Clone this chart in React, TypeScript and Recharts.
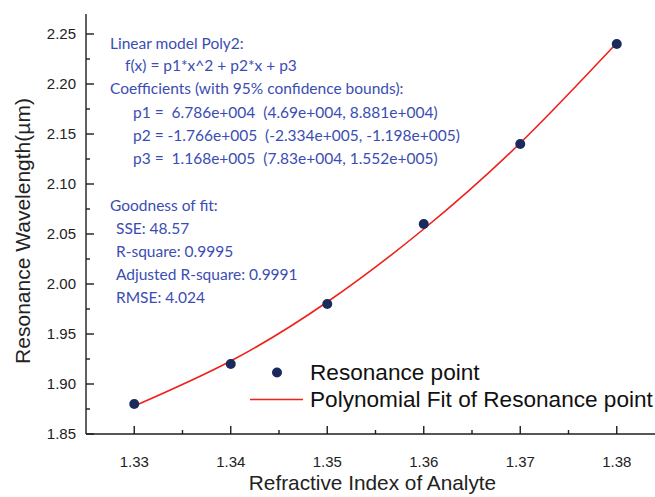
import React from "react"
import { ComposedChart, Line, Scatter, XAxis, YAxis, Legend } from "recharts"

// refractive index of the analyte
const indices = [1.33, 1.34, 1.35, 1.36, 1.37, 1.38]
// measured resonance wavelength (µm)
const resonance = [1.88, 1.92, 1.98, 2.06, 2.14, 2.24]
// quadratic fit evaluated at each index (µm)
const polyFit = [1.878, 1.923, 1.982, 2.055, 2.141, 2.241]

const xTicks = [1.33, 1.335, 1.34, 1.345, 1.35, 1.355, 1.36, 1.365, 1.37, 1.375, 1.38, 1.385]
const yTicks = [
    1.85, 1.875, 1.9, 1.925, 1.95, 1.975, 2.0, 2.025, 2.05, 2.075, 2.1, 2.125, 2.15, 2.175, 2.2,
    2.225, 2.25,
]

const fitNotes = [
    { text: "Linear model Poly2:", x: 110, y: 43 },
    { text: "f(x) = p1*x^2 + p2*x + p3", x: 125, y: 65 },
    { text: "Coefficients (with 95% confidence bounds):", x: 110, y: 88 },
    { text: "p1 =  6.786e+004  (4.69e+004, 8.881e+004)", x: 133, y: 112 },
    { text: "p2 = -1.766e+005  (-2.334e+005, -1.198e+005)", x: 133, y: 135 },
    { text: "p3 =  1.168e+005  (7.83e+004, 1.552e+005)", x: 133, y: 158 },
    { text: "Goodness of fit:", x: 110, y: 205 },
    { text: "SSE: 48.57", x: 116, y: 228 },
    { text: "R-square: 0.9995", x: 116, y: 251 },
    { text: "Adjusted R-square: 0.9991", x: 116, y: 274 },
    { text: "RMSE: 4.024", x: 116, y: 297 },
]

const data = indices.map((n, i) => ({ n, wl: resonance[i], fit: polyFit[i] }))

const FONT = "'Liberation Sans', Arial, sans-serif"
const AXIS = "#1e1e1e"
const DOT = "#1b2a5c"
const FIT = "#f0201a"
const NOTE = "#3b4db3"

const isMajor = (v: number, step: number) => Math.round(v * 1000) % step === 0

// ticks point into the plot; only the round values get a label
// eslint-disable-next-line
const XTick = ({ x, y, payload }: any) => {
    const major = isMajor(payload.value, 10)
    return (
        <g>
            <line x1={x} x2={x} y1={y} y2={y - (major ? 8 : 4)} stroke={AXIS} strokeWidth={1.4} />
            {major && (
                <text x={x} y={y + 33} textAnchor="middle" fontSize={15} fontFamily={FONT} fill="#222">
                    {payload.value.toFixed(2)}
                </text>
            )}
        </g>
    )
}

// eslint-disable-next-line
const YTick = ({ x, y, payload }: any) => {
    const major = isMajor(payload.value, 50)
    return (
        <g>
            <line x1={x} x2={x + (major ? 8 : 4)} y1={y} y2={y} stroke={AXIS} strokeWidth={1.4} />
            {major && (
                <text x={x - 10} y={y + 5} textAnchor="end" fontSize={15} fontFamily={FONT} fill="#222">
                    {payload.value.toFixed(2)}
                </text>
            )}
        </g>
    )
}

// eslint-disable-next-line
const Dot = ({ cx, cy }: any) => <circle cx={cx} cy={cy} r={5} fill={DOT} />

const renderLegend = () => (
    <div style={{ fontFamily: FONT, fontSize: 22.6, color: "#111", lineHeight: "27px" }}>
        <div style={{ display: "flex", alignItems: "center", height: 27 }}>
            <svg width={60} height={27}>
                <circle cx={27} cy={13.5} r={5} fill={DOT} />
            </svg>
            <span>Resonance point</span>
        </div>
        <div style={{ display: "flex", alignItems: "center", height: 27 }}>
            <svg width={60} height={27}>
                <line x1={0} x2={53} y1={13.5} y2={13.5} stroke={FIT} strokeWidth={1.5} />
            </svg>
            <span>Polynomial Fit of Resonance point</span>
        </div>
    </div>
)

export default function App() {
    return (
        <div
            style={{
                position: "absolute",
                left: 0,
                top: 0,
                width: 655,
                height: 497,
                overflow: "hidden",
                background: "#fff",
            }}
        >
            <ComposedChart width={665} height={497} data={data} margin={{ top: 14, right: 0, bottom: 0, left: 0 }}>
                <XAxis
                    dataKey="n"
                    type="number"
                    domain={[1.325, 1.385]}
                    ticks={xTicks}
                    interval={0}
                    height={63}
                    tickSize={0}
                    tickMargin={0}
                    tickLine={false}
                    tick={<XTick />}
                    axisLine={{ stroke: AXIS, strokeWidth: 1.4 }}
                    label={({ viewBox }: any) => (
                        <text
                            x={viewBox.x + viewBox.width / 2 - 3}
                            y={viewBox.y + 56}
                            textAnchor="middle"
                            fontSize={20.8}
                            fontFamily={FONT}
                            fill="#222"
                        >
                            Refractive Index of Analyte
                        </text>
                    )}
                />
                <YAxis
                    type="number"
                    domain={[1.85, 2.27]}
                    ticks={yTicks}
                    interval={0}
                    width={86}
                    tickSize={0}
                    tickMargin={0}
                    tickLine={false}
                    tick={<YTick />}
                    axisLine={{ stroke: AXIS, strokeWidth: 1.4 }}
                    label={({ viewBox }: any) => {
                        const cx = 22
                        const cy = viewBox.y + viewBox.height / 2 + 7
                        return (
                            <text
                                x={cx}
                                y={cy}
                                transform={`rotate(-90 ${cx} ${cy})`}
                                textAnchor="middle"
                                dominantBaseline="central"
                                fontSize={21}
                                fontFamily={FONT}
                                fill="#222"
                            >
                                Resonance Wavelength(µm)
                            </text>
                        )
                    }}
                />
                <Line
                    dataKey="fit"
                    type="natural"
                    stroke={FIT}
                    strokeWidth={1.6}
                    dot={false}
                    activeDot={false}
                    isAnimationActive={false}
                />
                <Scatter dataKey="wl" shape={<Dot />} isAnimationActive={false} />
                <Legend
                    content={renderLegend}
                    layout="horizontal"
                    verticalAlign="middle"
                    align="center"
                    wrapperStyle={{ left: 250, top: 359, width: 420 }}
                />
            </ComposedChart>
            {fitNotes.map((note) => (
                <div
                    key={note.text}
                    style={{
                        position: "absolute",
                        left: note.x,
                        top: note.y - 11,
                        height: 22,
                        lineHeight: "22px",
                        fontFamily: "Lato, sans-serif",
                        fontSize: 15.5,
                        color: NOTE,
                        whiteSpace: "pre",
                    }}
                >
                    {note.text}
                </div>
            ))}
        </div>
    )
}
